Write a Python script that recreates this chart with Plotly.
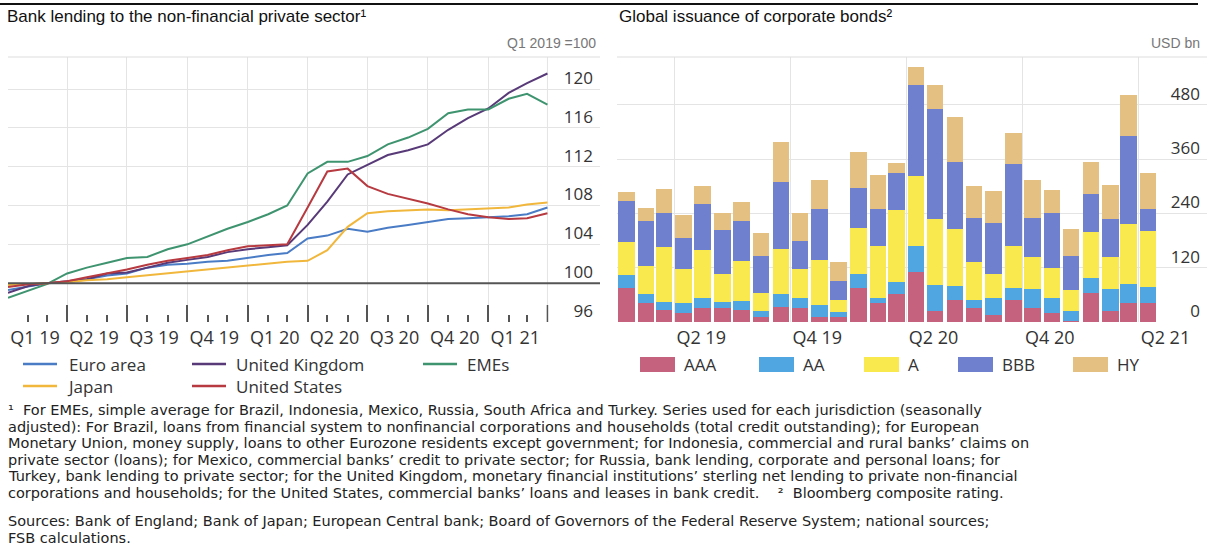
import pandas as pd
import plotly.graph_objects as go

# ---------------- data ----------------
line_months = pd.date_range("2019-01-01", periods=28, freq="MS")
euro_area = [99.3, 99.7, 100.0, 100.1, 100.4, 100.8, 101.0, 101.6, 101.9, 102.0, 102.2, 102.3, 102.6, 102.9,
             103.1, 104.6, 104.9, 105.6, 105.3, 105.7, 106.0, 106.3, 106.6, 106.7, 106.8, 106.9, 107.1, 107.8]
united_kingdom = [99.0, 99.7, 100.0, 100.2, 100.4, 101.0, 101.1, 101.6, 102.1, 102.4, 102.7, 103.2, 103.5, 103.7,
                  103.9, 106.0, 108.4, 111.2, 112.2, 113.2, 113.7, 114.3, 115.8, 117.0, 118.0, 119.6, 120.6, 121.6]
emes = [98.5, 99.2, 99.9, 101.0, 101.6, 102.1, 102.6, 102.7, 103.5, 104.0, 104.8, 105.6, 106.3, 107.1,
        108.0, 111.3, 112.5, 112.5, 113.1, 114.3, 115.0, 115.9, 117.5, 117.9, 117.9, 119.0, 119.5, 118.4]
japan = [99.8, 99.9, 100.0, 100.1, 100.3, 100.4, 100.6, 100.8, 101.0, 101.2, 101.4, 101.6, 101.8, 102.0,
         102.2, 102.3, 103.4, 105.8, 107.2, 107.4, 107.5, 107.6, 107.5, 107.6, 107.7, 107.8, 108.1, 108.3]
united_states = [99.6, 99.9, 100.0, 100.2, 100.6, 101.0, 101.4, 101.9, 102.3, 102.6, 102.9, 103.4, 103.8, 103.9,
                 104.0, 107.8, 111.5, 111.8, 110.0, 109.2, 108.7, 108.2, 107.6, 107.1, 106.8, 106.6, 106.7, 107.2]

bar_months = pd.date_range("2019-01-01", periods=28, freq="MS") + pd.Timedelta(days=15)
aaa = [76, 41, 26, 21, 32, 32, 26, 11, 33, 30, 11, 11, 76, 41, 63, 111, 24, 49, 30, 16, 49, 30, 21, 2, 65, 24, 43, 42]
aa = [27, 20, 18, 20, 20, 12, 20, 13, 30, 24, 27, 11, 31, 11, 26, 57, 57, 30, 19, 37, 27, 42, 33, 22, 33, 48, 42, 36]
a_rated = [74, 63, 122, 77, 108, 62, 89, 41, 99, 64, 99, 26, 101, 116, 158, 155, 146, 126, 84, 54, 92, 72, 66, 46,
           101, 72, 131, 124]
bbb = [91, 99, 76, 68, 101, 97, 89, 80, 148, 61, 112, 43, 89, 82, 82, 200, 243, 148, 97, 111, 181, 85, 122, 76,
       85, 83, 196, 47]
hy = [20, 30, 53, 50, 40, 39, 42, 51, 89, 63, 66, 42, 80, 75, 22, 42, 54, 101, 71, 72, 70, 86, 51, 59, 70, 77, 89, 80]

left_tickvals = pd.date_range("2019-01-01", periods=9, freq="QS")
left_ticktext = ["Q1 19", "Q2 19", "Q3 19", "Q4 19", "Q1 20", "Q2 20", "Q3 20", "Q4 20", "Q1 21"]
left_last_tick = "2021-04-01"
left_minor_ticks = pd.date_range("2019-01-01", "2021-03-01", freq="MS")
right_tickvals = ["2019-04-01", "2019-10-01", "2020-04-01", "2020-10-01", "2021-04-01"]
right_ticktext = ["Q2 19", "Q4 19", "Q2 20", "Q4 20", "Q2 21"]
left_yticks = [96, 100, 104, 108, 112, 116, 120]
right_yticks = [0, 120, 240, 360, 480]

# ---------------- styles ----------------
W, H = 1212, 557
C_EURO, C_UK, C_EME, C_JP, C_US = "#4a7cc6", "#583a78", "#3f9470", "#f1b73c", "#b73a40"
C_AAA, C_AA, C_A, C_BBB, C_HY = "#c5627d", "#4fa6e0", "#f9e84e", "#6f80cf", "#e5c083"
SANS = "Open Sans, Noto Sans, sans-serif"
XTICKFONT = dict(family=SANS, size=18, color="#333333")
YTICKFONT = dict(family=SANS, size=17, color="#333333")
GRID = "#e4e4e4"
TICKC = "#555555"


def px(x):
    return x / W


def py(y):
    return 1 - y / H


fig = go.Figure()

line_series = [("Euro area", euro_area, C_EURO), ("United Kingdom", united_kingdom, C_UK),
               ("EMEs", emes, C_EME), ("Japan", japan, C_JP), ("United States", united_states, C_US)]
for name, vals, col in line_series:
    fig.add_trace(go.Scatter(x=line_months, y=vals, name=name, mode="lines",
                             line=dict(color=col, width=2), xaxis="x", yaxis="y", showlegend=False))

bar_series = [("AAA", aaa, C_AAA), ("AA", aa, C_AA), ("A", a_rated, C_A), ("BBB", bbb, C_BBB), ("HY", hy, C_HY)]
for name, vals, col in bar_series:
    fig.add_trace(go.Bar(x=bar_months, y=vals, name=name, marker=dict(color=col, line=dict(width=0)),
                         width=26 * 86400000, xaxis="x2", yaxis="y2", showlegend=False))

dom_y = [py(322), py(57)]
fig.update_layout(
    width=W, height=H, margin=dict(l=0, r=0, t=0, b=0),
    paper_bgcolor="white", plot_bgcolor="white", barmode="stack",
    xaxis=dict(domain=[px(8), px(600)], anchor="y", type="date",
               range=["2019-01-01", "2021-06-20"], tickmode="array",
               tickvals=left_tickvals, ticktext=left_ticktext, ticks="inside", ticklen=17,
               tickcolor=TICKC, tickwidth=1.5, showgrid=True, gridcolor=GRID, zeroline=False,
               showline=False, ticklabelshift=27, ticklabelstandoff=3, tickfont=XTICKFONT,
               minor=dict(tickmode="array", tickvals=left_minor_ticks, ticks="inside", ticklen=7,
                          tickcolor=TICKC, tickwidth=1.5, showgrid=False)),
    yaxis=dict(domain=dom_y, anchor="x", side="right", range=[96, 123.3], tickmode="array",
               tickvals=left_yticks, ticklabelposition="inside", ticklabelshift=-11,
               ticklabelstandoff=4, showgrid=True, gridcolor=GRID, zeroline=False,
               showline=False, ticks="", tickfont=YTICKFONT),
    xaxis2=dict(domain=[px(617), px(1207)], anchor="y2", type="date",
                range=["2019-01-01", "2021-07-18"], tickmode="array",
                tickvals=right_tickvals, ticktext=right_ticktext, ticks="", showgrid=True,
                gridcolor=GRID, zeroline=False, showline=False, ticklabelshift=27,
                ticklabelstandoff=3, tickfont=XTICKFONT),
    yaxis2=dict(domain=dom_y, anchor="x2", side="right", range=[0, 586], tickmode="array",
                tickvals=right_yticks, ticklabelposition="inside", ticklabelshift=-11,
                ticklabelstandoff=4, showgrid=True, gridcolor=GRID, zeroline=False,
                showline=False, ticks="", tickfont=YTICKFONT),
)

shapes = [
    dict(type="line", xref="paper", yref="paper", x0=0, x1=px(1198), y0=py(4), y1=py(4),
         line=dict(color="#111111", width=2)),
    # last quarter boundary of the left panel: gridline + major tick
    dict(type="line", xref="x", yref="y domain", x0=left_last_tick, x1=left_last_tick, y0=0, y1=1,
         line=dict(color=GRID, width=1), layer="below"),
    dict(type="line", xref="x", yref="y domain", x0=left_last_tick, x1=left_last_tick, y0=0, y1=17 / 265,
         line=dict(color=TICKC, width=1.5)),
    dict(type="line", xref="x domain", yref="y", x0=0, x1=1, y0=100, y1=100,
         line=dict(color="#555555", width=2)),
    dict(type="line", xref="x domain", yref="y domain", x0=0, x1=1, y0=1, y1=1,
         line=dict(color="#dddddd", width=1)),
    dict(type="line", xref="x2 domain", yref="y2 domain", x0=0, x1=1, y0=1, y1=1,
         line=dict(color="#dddddd", width=1)),
]
annotations = []


def add_text(x, y, text, size=18, family=SANS, color="#333333", anchor="left"):
    annotations.append(dict(x=px(x), y=py(y), xref="paper", yref="paper", text=text, showarrow=False,
                            xanchor=anchor, yanchor="middle", align="left", borderpad=0,
                            font=dict(family=family, size=size, color=color)))


# titles
TFONT = "Liberation Sans, Arial, sans-serif"
add_text(6, 17, "Bank lending to the non-financial private sector\u00b9", 17, TFONT, "#111111")
add_text(618, 17, "Global issuance of corporate bonds\u00b2", 17, TFONT, "#111111")
add_text(597, 43, "Q1 2019 =100", 14, TFONT, "#777777", "right")
add_text(1201, 43, "USD bn", 14, TFONT, "#777777", "right")

# left legend (lines), grouped by column
LEG_SIZE = 17
ROW1, ROW2 = 364, 386
legend_cols = [(23, [("Euro area", C_EURO), ("Japan", C_JP)]),
               (192, [("United Kingdom", C_UK), ("United States", C_US)]),
               (423, [("EMEs", C_EME)])]
for x0, items in legend_cols:
    for (name, col), yy in zip(items, [ROW1, ROW2]):
        shapes.append(dict(type="line", xref="paper", yref="paper", x0=px(x0), x1=px(x0 + 34),
                           y0=py(yy), y1=py(yy), line=dict(color=col, width=2.5)))
    ymid = ROW1 if len(items) == 1 else (ROW1 + ROW2) / 2
    add_text(x0 + 43, ymid, "<br>".join(n for n, _ in items), LEG_SIZE)

# right legend (boxes)
legend_boxes = [("AAA", C_AAA, 640), ("AA", C_AA, 759), ("A", C_A, 864), ("BBB", C_BBB, 958), ("HY", C_HY, 1073)]
for name, col, x0 in legend_boxes:
    shapes.append(dict(type="rect", xref="paper", yref="paper", x0=px(x0), x1=px(x0 + 35),
                       y0=py(372), y1=py(357), line=dict(width=0), fillcolor=col))
    add_text(x0 + 43, ROW1, name, LEG_SIZE)

# footnotes
FFONT = "DejaVu Sans, Liberation Sans, sans-serif"
notes = [
    (410, "\u00b9\u00a0 For EMEs, simple average for Brazil, Indonesia, Mexico, Russia, South Africa and Turkey. Series used for each jurisdiction (seasonally"),
    (427, "adjusted): For Brazil, loans from financial system to nonfinancial corporations and households (total credit outstanding); for European"),
    (443, "Monetary Union, money supply, loans to other Eurozone residents except government; for Indonesia, commercial and rural banks\u2019 claims on"),
    (460, "private sector (loans); for Mexico, commercial banks\u2019 credit to private sector; for Russia, bank lending, corporate and personal loans; for"),
    (476, "Turkey, bank lending to private sector; for the United Kingdom, monetary financial institutions\u2019 sterling net lending to private non-financial"),
    (493, "corporations and households; for the United States, commercial banks\u2019 loans and leases in bank credit.\u00a0\u00a0\u00a0 \u00b2\u00a0 Bloomberg composite rating."),
    (521, "Sources: Bank of England; Bank of Japan; European Central bank; Board of Governors of the Federal Reserve System; national sources;"),
    (538, "FSB calculations."),
]
for y, t in notes:
    add_text(7, y, t, 14.5, FFONT, "#222222")

fig.update_layout(shapes=shapes, annotations=annotations)

fig.write_html("out.html", config=dict(displayModeBar=False),
               post_script="document.body.style.margin='0';document.body.style.overflow='hidden';")
